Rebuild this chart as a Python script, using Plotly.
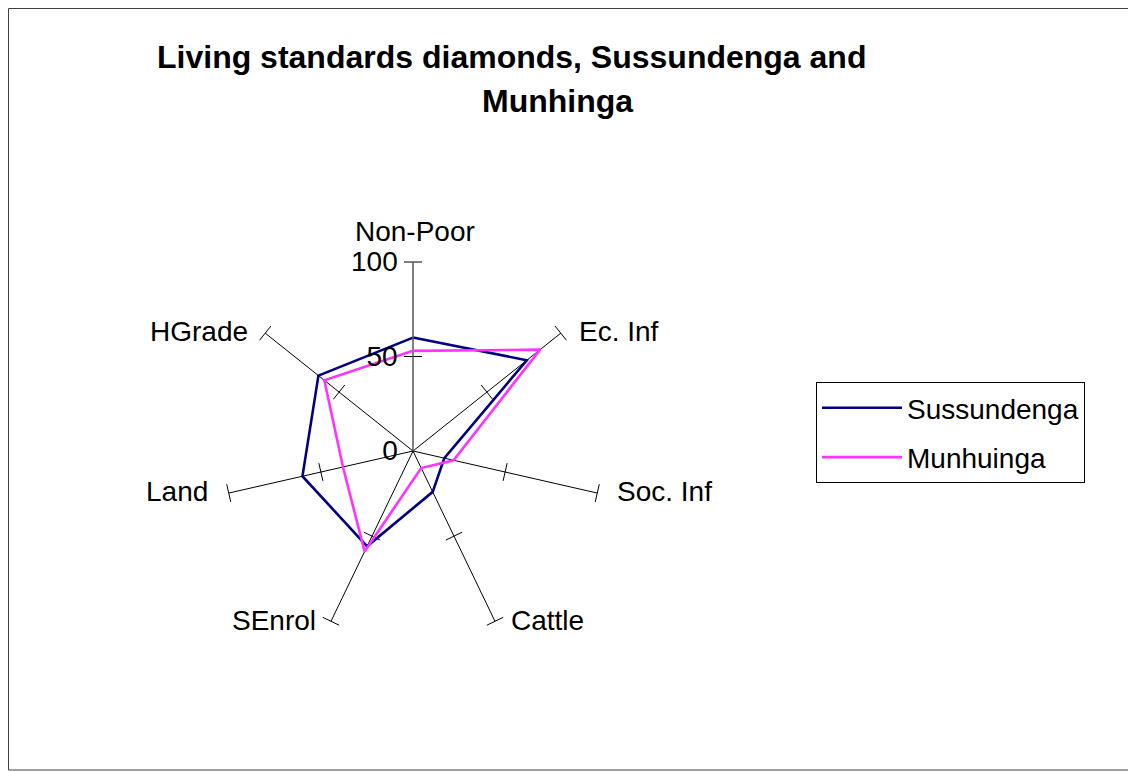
import plotly.graph_objects as go

categories = ["Non-Poor", "Ec. Inf", "Soc. Inf", "Cattle", "SEnrol", "Land", "HGrade"]
sussundenga = [60, 77, 17, 24, 56, 60, 64]
munhuinga = [53, 86, 22, 10, 59, 38, 60]
tick_values = [50, 100]
radial_ticks = [0, 50, 100]
radial_ticktext = ["0", "50", "100"]
title_line1 = "Living standards diamonds, Sussundenga and"
title_line2 = "Munhinga"

FONT = "Liberation Sans, Arial, sans-serif"
OFF = 8                      # browser body margin
W, H = 1136 - OFF, 772 - OFF


def px(X):
    return (X - OFF) / W


def py(Y):
    return 1 - (Y - OFF) / H


fig = go.Figure()

# tick marks across every spoke
n = len(categories)
for k, cat in enumerate(categories):
    screen_angle = 90 - k * 360.0 / n
    fig.add_trace(go.Scatterpolar(
        r=tick_values, theta=[cat] * len(tick_values), mode="markers",
        marker=dict(symbol="line-ns", size=13, angle=-screen_angle,
                    line=dict(color="black", width=1)),
        showlegend=False, hoverinfo="skip"))

fig.add_trace(go.Scatterpolar(
    r=sussundenga + sussundenga[:1], theta=categories + categories[:1],
    mode="lines", name="Sussundenga", line=dict(color="#000080", width=2.6),
    legendgroup="a"))
fig.add_trace(go.Scatterpolar(
    r=munhuinga + munhuinga[:1], theta=categories + categories[:1],
    mode="lines", name="Munhuinga", line=dict(color="#FF33FF", width=2.6),
    legendgroup="b"))

cx, cy, R = 413, 451, 189
fig.update_layout(
    width=W, height=H,
    margin=dict(l=0, r=0, t=0, b=0),
    paper_bgcolor="white", plot_bgcolor="white",
    font=dict(family=FONT, size=28, color="black"),
    polar=dict(
        domain=dict(x=[px(cx - R), px(cx + R)], y=[py(cy + R), py(cy - R)]),
        bgcolor="white",
        gridshape="linear",
        radialaxis=dict(range=[0, 100], tickvals=radial_ticks, ticktext=radial_ticktext,
                        angle=90, tickangle=90, side="counterclockwise", showgrid=False,
                        showline=True, linecolor="#808080", linewidth=1,
                        ticks="outside", ticklen=5, tickcolor="rgba(0,0,0,0)",
                        tickfont=dict(size=28, family=FONT)),
        angularaxis=dict(rotation=90, direction="clockwise", showgrid=True,
                         gridcolor="black", gridwidth=1, showline=False,
                         ticks="", showticklabels=False),
    ),
    legend=dict(x=px(816), y=py(382), xanchor="left", yanchor="top",
                bordercolor="black", borderwidth=1, bgcolor="white",
                font=dict(size=28, family=FONT), tracegroupgap=10, itemwidth=80),
    showlegend=True,
)

# category labels placed beside the spoke ends (page pixel anchors)
label_anchor = [(415, 232, "center"), (577, 331, "left"), (615, 492, "left"),
                (509, 620, "left"), (318, 620, "right"), (210, 492, "right"),
                (250, 331, "right")]
for cat, (lx, ly, anc) in zip(categories, label_anchor):
    fig.add_annotation(text=cat, x=px(lx), y=py(ly), xref="paper", yref="paper",
                       showarrow=False, xanchor=anc, yanchor="middle",
                       font=dict(size=28, family=FONT, color="black"))

fig.add_annotation(text="<b>" + title_line1 + "</b>", x=px(511), y=py(57),
                   xref="paper", yref="paper", showarrow=False,
                   font=dict(size=32, family=FONT), xanchor="center", yanchor="middle")
fig.add_annotation(text="<b>" + title_line2 + "</b>", x=px(557), y=py(101),
                   xref="paper", yref="paper", showarrow=False,
                   font=dict(size=32, family=FONT), xanchor="center", yanchor="middle")

fig.add_shape(type="rect", xref="paper", yref="paper", x0=px(8.5), x1=px(1134),
              y0=py(770), y1=py(8.5), line=dict(color="#404040", width=1))

fig.write_html("out.html")
